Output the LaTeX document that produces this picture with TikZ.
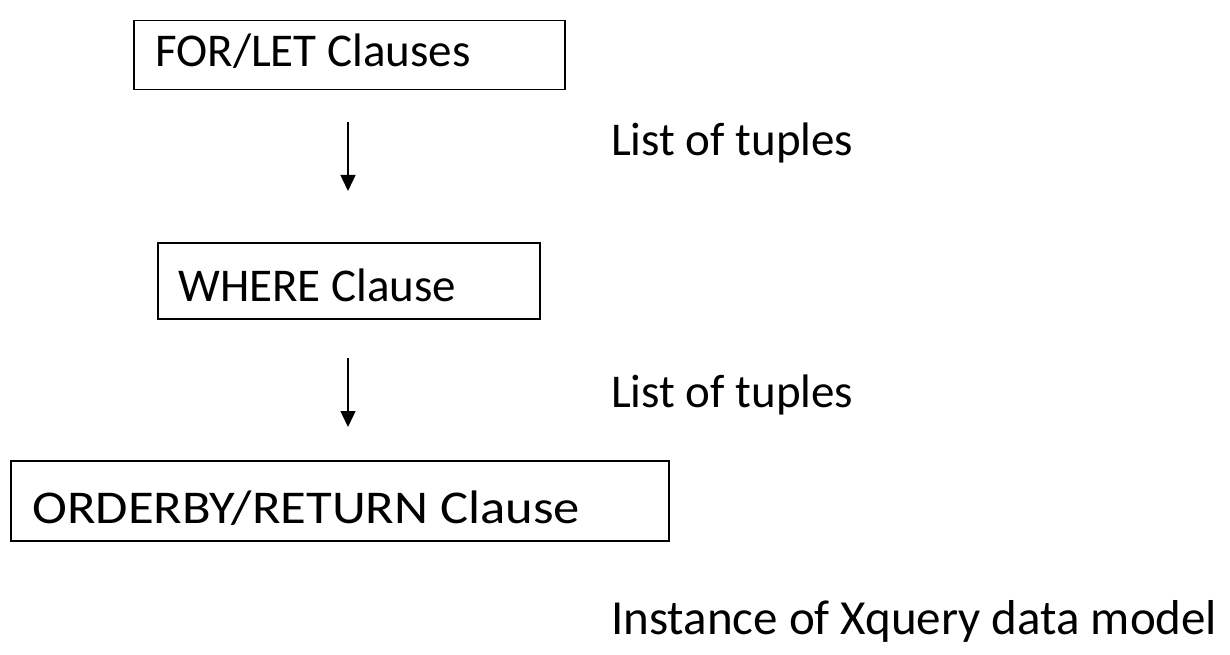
\documentclass[tikz,border=0pt]{standalone}
\usepackage{fontspec}
\setmainfont{Carlito}
\usetikzlibrary{arrows.meta}
\begin{document}
\begin{tikzpicture}[x=1pt,y=-1pt,
  clausebox/.style={draw=black,line width=1.5pt,anchor=north west,inner sep=0pt},
  lbl/.style={anchor=base west,inner sep=0pt,font=\fontsize{47}{56}\selectfont},
  flow/.style={line width=1.4pt,-{Triangle[length=16pt,width=15pt]}}]
\useasboundingbox (0,0) rectangle (1230,655);
\node[clausebox,minimum width=431pt,minimum height=69pt] (b1) at (133,20) {};
\node[lbl] (t1) at (155,67) {FOR/LET Clauses};
\node[clausebox,minimum width=382pt,minimum height=76pt] (b2) at (157,242) {};
\node[lbl] (t2) at (178,301) {WHERE Clause};
\node[clausebox,minimum width=658pt,minimum height=80pt] (b3) at (10,460) {};
\node[lbl] (t3) at (32,523) {\scalebox{1.12}[1]{ORDERBY/RETURN Clause}};
\node[lbl] (l1) at (611,156) {List of tuples};
\node[lbl] (l2) at (611,407) {List of tuples};
\node[lbl,font=\fontsize{49}{58}\selectfont] (l3) at (611,634) {Instance of Xquery data model};
\coordinate (a1s) at (348,122);
\coordinate (a1e) at (348,191);
\coordinate (a2s) at (348,358);
\coordinate (a2e) at (348,427);
\draw[flow] (a1s) -- (a1e);
\draw[flow] (a2s) -- (a2e);
\end{tikzpicture}
\end{document}
